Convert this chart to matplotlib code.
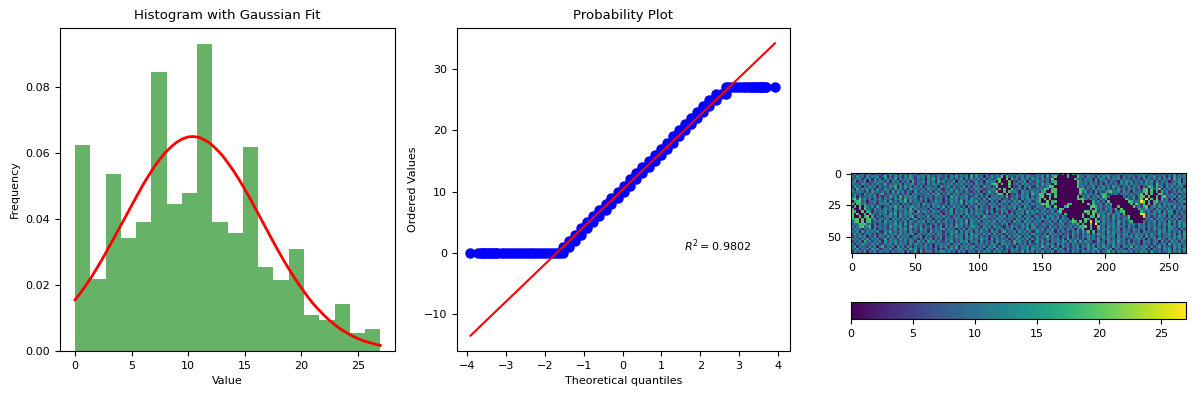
import numpy as np
import matplotlib
matplotlib.use("Agg")
import matplotlib.pyplot as plt

W, H = 1196, 396

# Histogram (density per bin) and fitted curve
bin_edges = [0, 1.35, 2.7, 4.05, 5.4, 6.75, 8.1, 9.45, 10.8, 12.15, 13.5, 14.85,
             16.2, 17.55, 18.9, 20.25, 21.6, 22.95, 24.3, 25.65, 27.0]
bin_heights = [.0624, .0218, .0536, .0342, .0391, .0845, .0445, .0479, .0930, .0391,
               .0358, .0618, .0255, .0215, .0309, .0109, .0094, .0142, .0055, .0067]
fit_x = [0, .5, 1, 1.5, 2, 2.5, 3, 3.5, 4, 4.5, 5, 5.5, 6, 6.5, 7, 7.5, 8, 8.5, 9, 9.5, 10, 10.5,
         11, 11.5, 12, 12.5, 13, 13.5, 14, 14.5, 15, 15.5, 16, 16.5, 17, 17.5, 18, 18.5, 19, 19.5,
         20, 20.5, 21, 21.5, 22, 22.5, 23, 23.5, 24, 24.5, 25, 25.5, 26, 26.5, 27]
fit_y = [.0155, .0177, .0201, .0227, .0255, .0284, .0315, .0346, .0378, .0409, .0441, .0472,
         .0503, .0531, .0558, .0581, .0602, .0619, .0633, .0643, .0649, .0650, .0647, .0639,
         .0628, .0612, .0594, .0571, .0547, .0520, .0491, .0461, .0429, .0397, .0365, .0333,
         .0302, .0272, .0244, .0217, .0192, .0168, .0146, .0127, .0109, .0093, .0079, .0066,
         .0056, .0046, .0038, .0031, .0026, .0021, .0017]

# Probability plot: low tail, one plateau per integer level, high tail
low_tail_q = [-3.92, -3.72, -3.66, -3.62, -3.58, -3.55, -3.50, -3.45, -3.40, -3.35, -3.30, -3.25,
              -3.20, -3.12, -3.05, -2.97, -2.90, -2.82, -2.75, -2.67, -2.60, -2.52, -2.45, -2.37,
              -2.30, -2.22, -2.15, -2.07, -2.00, -1.92, -1.85, -1.77, -1.70, -1.62, -1.54]
level_values = list(range(1, 27))
level_start_q = [-1.53, -1.38, -1.22, -1.07, -.92, -.76, -.60, -.44, -.29, -.12, .03, .19,
                 .35, .51, .67, .83, .98, 1.14, 1.29, 1.44, 1.60, 1.76, 1.92, 2.07, 2.22, 2.40]
level_end_q = [-1.38, -1.22, -1.07, -.92, -.76, -.60, -.44, -.29, -.12, .03, .19, .35,
               .51, .67, .83, .98, 1.14, 1.29, 1.44, 1.60, 1.76, 1.92, 2.07, 2.22, 2.40, 2.65]
high_tail_q = [2.65, 2.72, 2.80, 2.87, 2.95, 3.02, 3.10, 3.16, 3.22, 3.27, 3.32, 3.37, 3.42, 3.46,
               3.50, 3.53, 3.56, 3.59, 3.62, 3.66, 3.70, 3.92]
low_tail_value = 0
high_tail_value = 27
fit_line_q = [-3.92, 3.92]
fit_line_value = [-13.5, 34.2]
r2_label = r"$R^2 = 0.9802$"

# Heat map estimated by eye on a coarse grid of 2-unit cells (base-36 values)
image_rows = [
"7c3ae59h2b8d 4a9f6c1e7b3g 8d2b6ha45c9e 3f7a0c8e5b2d 9h4b6d3a8f5c e2a7c4g9b6d1 8f3c5a7e2bh4 6d9a3f5c8b2e 7a4gc6e1d9b3 5f8a2c7h4e6b 9d3b6a8f2c5e",
"b5e8a2f6c9d3 7h1b4e8a3c6f a5c9e2g7b4d8 6b3d9f5a8c2h 4e7a1c6f9b3d 8a5g2d7c4e9b h3a6c8d5k3b7 d5a8e2c9f4b6 a3h7c5e8b2d4 9c6f3a8d5b1e 7a4e9c2g6b8d",
"6a9d4c7f2e8b 3c8a5g1d6b9f e4b7a2c9h5d3 8f6c3a7e0b4d a9c5e2b8f6d3 7a4h9c3e8b2f 6d4hk7i9n2c9 b5f7a3e8c4d6 2c9a6f8b4e7d 3g5a9c7e2b8f 4d9a6c3h7e2b",
"9f3b7e1a5c8d a6d2f8c4b7e3 h5a9c3e6b2g8 d4a7f1c9e5b3 8c6a2f9d4h7b e3c8a5b9f2d6 g7ka9c3dk5a8 d3f6c9a2e7b4 c8a5e3f9b6d2 7a4d8h2c6f9b 5e3a8c6b9f2d",
"c7a4f9d2b6e5 8h3a6c9e2b7d f4c8a1d5e9b3 6a9f3c7d5b7c 2e8b5a7h3c9d 6f2a8d4c7e3b k9i4d8a6hi8e b4a7d2f8c5a9 e3c6h9a4b8f2 d5a7e3c9b6f4 2a8e5c7d3g9b",
"4e8b2a6f9c3d 7a5d9h2c6f8b 3c7e4b9a6d2f a8d5c7a9e3c4 e9a3f7b2c6h8 d4b9a5e2c8f3 ajk6c9e3a5bk 7c5e9a3b8d6f 4a9h2d7b5e3c 8f6a4c9e2d7b a5d8c3f6b9e2",
"a3h6c9e5b2d8 4f9a3e7c5b2g d8a6b3f9c4e7 2c7e9a5d8f3b 5f9d3a8e6c4b a7e3g9c5b2d8 hk9c5a7e3d8b a6d3c8e5b9f2 i3kb8a6e2d9c 4f7c9h5a3e8b 6d2a9f4c7b5e",
"e6b9a4d2f7c5 a8c3h6e9b4d7 2f5c9a7d3e8b 6a9d5f8a4c73 c7e2a5g8d4b9 3f6c8a2e9b5d ih5a9d3e7cki 8ck8d4a9c6e3 7j6ah5c8a3e7 b9d4f6a2c8e5 7a3c9e6b4f8d",
"5c8a2f6d9b3e h4a7c9e3b6f2 d9b5a8c4e7g3 a6f3d8b5a97c 4b8e2d9a6f3c 7a5c9e4d8b2h k7a4c9e5b8d3 a6cj7b4e9a6d 5e8b3ik7c4a9 e2f8b5d3a6c9 g5d2a8e6c3b7",
"8f2d5a9c7e4b 3a6f8c2h5d9b 7e3a6c9b4f8d 5c2g8d6a9e37 8d4a6f2c9b7e 5h3a8d6c9e2b f7k4a9c6d3h8 b5a9ik5a8c3f 6d9b2ejk8e5b 3a9c6f2d7b4e 8c4a6g9d3f7b",
"ik4a9d6c3f8e 5b7a2e9c4h6d 9a4f7c3e5b8d 2e6a9d4b7c3f a8c5e3g9b6d2 7a4f8c2e5d9b 3ih8a5c7e2d9 a4c7fkj9b4f7 i6b9d3e7a5c8 k4c7a9e3b6d2 a7e4c9f2b8d5",
"0j0k7c2a9e5b 8d3f6a4c9h2e 6c8b4e2a7f9d 3a5d8c6h2b9e 7f4a9c3e6d2b c8a5d7g3b9f4 a8i5c9d3e7a6 f4b8d2ki7c4a 9e5a6c8b3d7f ik7g4a8d3e9c 5b8f2d6a4c9e",
"00hj0e5b8a3d c9f4a7e2b6d3 a7d2g8c5e9b4 6f3c9a7d2e5b a5h8c2f7b4d9 6a3e9d5c8b2f 7d4i9a6e3c8b f5a7d2c9e4k9 d6b8a3f5c9i6 4jk7a8c5e2b9 d3a7f4c9b6e2",
"0k000ib7d3f9 2a6c8h5e3b7d f9b4a6d2c8e5 g3a7f9c5b2d6 8e2c6a4f9d3b a7c9e5a3g8b4 2f6hk9a5d8c3 j6e9b4a7c5dk 8a3f6b9d2e74 ki5n8kb7a4e8 3c9d6a2f5b8e",
"k0i00k9a4e7c 5d8b2f6c9a3h 4e7a9c3f6b2d 8c5g2a9e7d4b 3f6d8a5c2e9b d4a7c2f9b6e3 9a5cj7e3a9d6 b8i4c7f2a5e9 hk6d9b3a8c5k 7i4r2ja4d7c3 9f2b6e8a5c4d",
"i00k0j6f2c8a 9e3b7d4a6c8f b2g6d9a4e7c3 5a8f3c7b9e2d 6c9a4h7f3b5d 8e2a6b9c4f7d 3g8b5k9a6d3e c5ia7d2f8b4i 6bh9c3a7e5d2 8ka6n9i7c3f9 a4d8b5e2c7a6",
"0j00ki3c9b5e 7a4f8h2d6b9c 5d9a3e6c8b4f 2c7e5a9d3g8b 4f9b6c2a8e5d 3a7f4d9c2e6b 8c4a7di9c5a3 e7j5d8ak4c9f 8a5f6i2k7d3b a5c9j7i6a9e2 c7f3a8d5b4e9",
"k0ik00j7e2a8 4c9d6b3f7a5e h2c8a5f3b9d6 e7a4c9b2f6d8 a5e3h9c6b4d7 f2b8a6e4c9d3 7a9c5e2ik6a8 d4k7c9e3a5i8 4d9c6ai7ak5c 8e3a6d9f2k8c 3f6a9e2d7b4c",
"0k0i0k0c8f4b a6e2c9d5b7g3 8f4b6a9c2e7d 3d9a5f8c6b4e 7c2e8b4a6f9d 5a8c3g7b2e6d 9f3a6b8c5ikh a7i3c9d6k5e8 8b5e3c7i9aj6 b7d3f5ak6ia7 d4b8e3c6f2a9",
"j0ki00hk5a9d 3f8b6e4a7c2d a6c9e3b7d2f5 9e6b3a7c5h2d b8f4a9c6e3b7 d5a2e8c4f9b6 3c7a9e5d2b8i 6k9i5c8a3kj7 i9a6d3f7c4k5 e8b5a7di6cj8 5e2a9c6d3f8b",
"7ki0kj0ib4e2 8c5a9g6d3f7a 4e9c7b2a6f3d 5b8a4d9e6c2f 6a3c9e5h7b4d 8f2b6a9c4e7d a5e8d3b7f2c6 k7ai9k6c8di5 a3i9c5a8d4f3 ai6d3a9c7k8e 7c4b9e2a6d8f",
"c5aik9ej2d8b 6a3f7c9e5b2h 9b6d4a8e3c7f 2e7c5g9b4a6d f9a4d7c2e8b5 3c6f9a5d8b2e 7g4b9c6a3f8d 5ik9ai3c8d5k i5e8b3c7a9f4 6d2c8e5a9c7k 3b8e5a9c3f6d",
"6e9b3a7d5f2c 8b4a7e2c9f5d 3a6g9d4c7b8e f5c8b2a6e3d9 7d4a9f5b3c8e 6a9c2e7b4g5d 3f8a5d9c6b2e 4a6kh9i5c7di 7kc9a6f2d5e8 7a4e9d3f6bk8 c9f3b6d8a2e5",
"a8d2f5c9b7e4 3c9f6a5d8b2e 7a4e8c2h6d9b 4a9d7f3c5e8b 2c6e8a4f9d3b h5a7d3f8c6e2 9b4d7c2e5a8f 6c9a3ikjh7ik e7a4c9b6f3d8 5ch2a8k6hi7e 3a6d9f4b7c2e",
"5f8c3a9e6b2d 7g4b8d3f6a9c e2c7a5d9b4f8 6b3e9a7c5d2f a9d5c7f2e4b8 3e6a9c5b8d2f c7a4e2g8b6d3 9a5f8c3e7b2d 6h9a3d7f4c8b e2a6c9d5b3f7 8d4a9e6c2b5h",
"3b7e9d2a6f4c a5e8c3h7b9d2 6d9f2b7a4c8e 3a7c5e9b2f6d 8f4b7d3a9c5e a2d6c8f4b9e3 7e5a9h3c6d2b 8f2d6a4c9e7b 3a8e5c9b2f6d a7d4f8b3e5c9 2b6a9c4e7g3f",
"e9a5c7f3b8d2 6h2d9a4e7c5b 8a3c6e9f4b7d 2f9b5a8d3c7e 4a6f9c2h5e8b 7d3a5f9b6c2e 4c8b2e6a9f5d 3h7a9d5c2e8b 6f2b8e4a7d9c 3a5c9f7b2e4d 8g6a3d9c5b7e",
"4a7d3h9c5b8e 2f6b9e5a8c3d a4e7c2g9d6b8 5c8f3a6d9e2b 9b2e5a7c4f8d c6a3g9e7b5d2 8f4d6a2c9b7e a5c8e3f6d9b2 4e7a2d9c5g8b 6f3a8c2e9d5b c2e7a5f9b4d8",
"d2b6f9a4e8c3 7a9c3f5d8b2e 5f8b4h6a3d9c a7e2c9f5b8d4 3c6a8e4g9b2f d9b5f2a7c3e6 5a8c4e9b2h7d 6d3f8a5c7e2b 9a6d3c8f4b7e 5b9e7a2d6c3f 4a8d2h6c9f5b",
"8f3c9a5e7d2b h5a8d2f7c4e9 3b7a9d6e2c5f 8g4c6f2a9b7d e5a9c3d8f2b6 4f7a2e6c9d3b 9c5h8a3f6d2e 7b4a9e3c8f5d 2c6f9a4e8b3d a7h3d6b9e2c5 9f4c7a3e8d2b",
"b6e4a8c3f9d2 5c7f2a9e6b3h 9d3e6c8a5f2b 4a9f7d3c6e8b 5c8b2f9a4g7d 3a6d8e5b9c2f a9e3b7d4f6c8 2f5a9c7b3e6d h8a4c9f2d7b5 3e6c9a8f4d2b 7a5d9e3c6b8f",
"3d9a6f2c8e5b a8b4e7c9d3f6 7f2h5a9c4b8e d6c8a3f7e2b9 a4f6d9b3c7e5 8b2e9a6g4d7c 3c6f5a8e2b9d 8a4d7c3f9b6e 5e2a8h6d3c9f b7c4a6e9d2f8 6c3a9f5b8e2d",
]
# Blobs: (first row, first column, cells per row)
blob_patches = [
    (10, 0, ["ik6k9d6c3f8e", "0hik7c2a9e5b", "k0ih9e5b8a3d", "0i0k0ib7d3f9", "i00j0k9a4e7c", "ki00k0hf2c8a",
             "j0k00i0k9b5e", "k00k0ik0h2a8", "hik0j0ik8f4b", "9ik0k0ij5a9d", "7c9kik9b4e2a"]),
    (1, 56, ["8a9k0i7c5", "6gk00k0i9", "b0k000j07", "ki0j00k0a", "9k0000i06", "c0j0k00k8", "ak00i0j9d", "7bki0k0a5"]),
    (0, 72, [
        "7c5a9d3f6b0h0k0i8ac5e9a7d3b6f8a4c9e5b7d3a6f9c5e2a8d6b9",
        "6a8d2f4ck0000i000k9b4e7a3c6d8f5a9c2e6b8a4d7f3c9e5a6d2b",
        "9c3e7a5k00000000j8a4c8e2d6fb3a7c9e5d8a4f6b2d9c7a5e3b8d",
        "5d8a4b2hi00000000kc6a9d5e3b7f4c8a2e6d9b5a7c3f8e4d6b9a2",
        "8b4f9ac0j00000000ia7d3f8c5e2b9a6d4c8f3e7a5b9d6c2k8a5e9",
        "3e7a6dki000000000k9c5b7e2a8d6c3f9a4b7e5d8c2a6jg4i9d3f7",
        "a6c9ki0hk000000000ji8a4d6c9e3b7a5f8c4d9b6a3jk0i7gk2a6d",
        "7d4gi00kj000000000k9e5b3f7a6chka9d4e8b2e7a9ik0j0h0i9c4",
        "c8ki0jk0i000000000i5a8d6c2fhi4b7e3a8d6c4a8j0k0i00kh5b7",
        "4bhk00i0k00000000j0c7e4a9d3kg900000d5a8f3ckj0k00i0gk8a",
        "9aj0k0i0000000000kikb5d8a3f7h0000000jb6d4ak0r0j0k0i6d3",
        "6di00k0ij0000000000k000h7c4a2k0000000ki7a9rk0i0gk6c9b5",
        "a8ckik0i00000ji000000k0ia6e3f7i0000000i0kb6j0k0h7a3e8d",
        "5c9a4jg0k000hk00000000jkh8d6a9b00i00000k7c5gk09d4f8a6b",
        "d6a8e3c9b0ki0000000000i0j7a4f8c5j0k000000ib9i6a3e7c5d9",
        "7e4b9a6d3gk000000000kj0ki5c9a6d2c8ik000000ia7d4c8f2b6e",
        "a3c8f5b7d6a0i000000i0j0k0h8b4e7a9c3j000000qr5b9d3a7e4c",
        "8d5a2e9c6f3b8000000k00ii0j6d9a3f5c7a8k00000q8c4a6e9b2d",
        "4a7f6c3d9b5e8a0j0000ki00k09c6b4e8a5dah000000a7f3c9d5b8",
        "b9d3a8e6c2f7a5cki0k0j0r0ji4e8a6c3f9b5dj0000c6a8e4b7d2f",
        "6c2e9a5d4b8f3a7e9k0i00k0r0bd5a9c7e3f6a9c5e8b4d7a3f6c9e",
        "e5a8c4f7b3d9a6c5b8hik0i00k7a3e8d6c9b4f7a2d9c5e8b6a4d3f",
        "9b6d3a7e5c8a4f9d2e7k00j00i6c9b5a8e3d7c4f8a6d2b5e9a7c3d",
        "5f8a4c9e2b6d7a3c8f5e9k0i0a7d3f6c9b5e8a4d7c2e9b6a3f8d5c",
    ]),
]
image_values = np.array([[int(ch, 36) for ch in row.replace(" ", "")] for row in image_rows])
for first_row, first_col, cells in blob_patches:
    for i, cell_row in enumerate(cells):
        image_values[first_row + i, first_col:first_col + len(cell_row)] = [int(ch, 36) for ch in cell_row]
image_extent = (-0.5, 263.5, 62.5, -0.5)
image_vmin, image_vmax = 0, 27


def box(x0, y0, x1, y1):
    return [x0 / W, 1 - y1 / H, (x1 - x0) / W, (y1 - y0) / H]


fig = plt.figure(figsize=(W / 100, H / 100), dpi=100)

ax1 = fig.add_axes(box(60, 28, 395, 351))
ax1.bar(bin_edges[:-1], bin_heights, width=np.diff(bin_edges), align="edge",
        color="green", alpha=0.6)
ax1.plot(fit_x, fit_y, color="red", lw=2)
ax1.set_xlim(-1.33, 28.3)
ax1.set_ylim(0, 0.0979)
ax1.set_yticks([0, .02, .04, .06, .08])
ax1.set_title("Histogram with Gaussian Fit", fontsize=9.5, pad=6.8)
ax1.set_xlabel("Value", fontsize=8)
ax1.set_ylabel("Frequency", fontsize=8)

ax2 = fig.add_axes(box(456.5, 28, 790, 351))
q, v = list(low_tail_q), [low_tail_value] * len(low_tail_q)
for lev, a, b in zip(level_values, level_start_q, level_end_q):
    q += [a, (a + b) / 2, b]
    v += [lev, lev, lev]
q += high_tail_q
v += [high_tail_value] * len(high_tail_q)
ax2.plot(q, v, "o", color="blue", ms=6.5, ls="none")
ax2.plot(fit_line_q, fit_line_value, color="red", lw=1.5)
ax2.set_xlim(-4.28, 4.31)
ax2.set_ylim(-16, 36.7)
ax2.set_xticks(range(-4, 5))
ax2.text(1.57, 0.3, r2_label, fontsize=8)
ax2.set_title("Probability Plot", fontsize=9.5, pad=6.8)
ax2.set_xlabel("Theoretical quantiles", fontsize=8)
ax2.set_ylabel("Ordered Values", fontsize=8)

ax3 = fig.add_axes(box(851, 173, 1186, 253))
im = ax3.imshow(image_values, cmap="viridis", vmin=image_vmin, vmax=image_vmax,
                extent=image_extent, interpolation="nearest", aspect="auto")
ax3.set_xticks([0, 50, 100, 150, 200, 250])
ax3.set_yticks([0, 25, 50])

cax = fig.add_axes(box(851, 302, 1186, 319))
cb = fig.colorbar(im, cax=cax, orientation="horizontal")
cb.set_ticks([0, 5, 10, 15, 20, 25])

for ax in (ax1, ax2, ax3, cax):
    ax.tick_params(labelsize=8)

fig.savefig("out.png", dpi=100)
